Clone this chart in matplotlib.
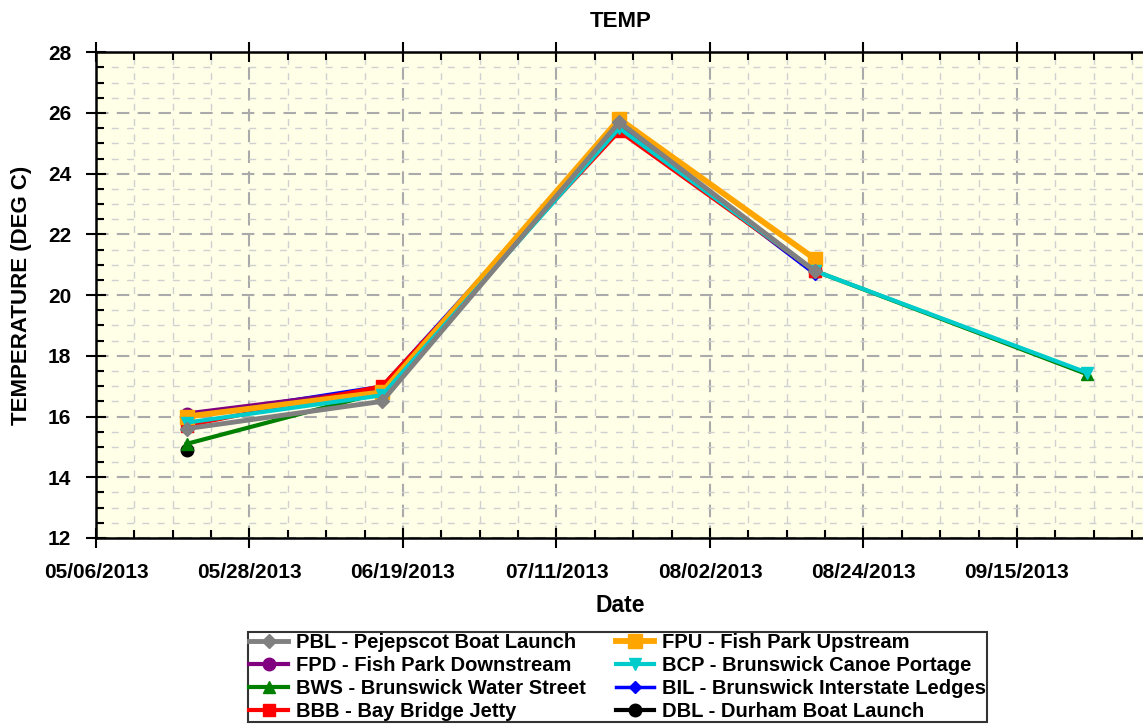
import datetime as dt

import matplotlib
matplotlib.use('Agg')
import matplotlib.dates as mdates
from matplotlib import pyplot as plt
from matplotlib.ticker import MultipleLocator

plt.rcParams['font.family'] = ['Liberation Sans', 'DejaVu Sans']
plt.rcParams['font.weight'] = 'bold'

dates = ['2013-05-19', '2013-06-16', '2013-07-20', '2013-08-17', '2013-09-25']

pbl = [15.6, 16.5, 25.7, 20.8]
fpd = [16.1, 16.9, 25.6, 20.8]
bws = [15.1, 16.8, 25.6, 20.8, 17.4]
bbb = [15.7, 17.0, 25.4, 20.8]
fpu = [16.0, 16.8, 25.8, 21.2]
bcp = [15.8, 16.7, 25.5, 20.8, 17.45]
bil = [16.0, 17.0, 25.6, 20.7]
dbl = [14.9]

labels = ['PBL - Pejepscot Boat Launch', 'FPD - Fish Park Downstream',
          'BWS - Brunswick Water Street', 'BBB - Bay Bridge Jetty',
          'FPU - Fish Park Upstream', 'BCP - Brunswick Canoe Portage',
          'BIL - Brunswick Interstate Ledges', 'DBL - Durham Boat Launch']

x = [dt.datetime.strptime(d, '%Y-%m-%d') for d in dates]

# (values, color, marker, markersize, linewidth, zorder)
series = [
    (pbl, '#808080', 'D', 7, 3.5, 9),
    (fpd, '#800080', 'o', 9, 3.0, 4),
    (bws, '#008000', '^', 9, 3.0, 3),
    (bbb, '#ff0000', 's', 8, 3.0, 5),
    (fpu, '#ffa500', 's', 10, 4.2, 6),
    (bcp, '#00cccc', 'v', 9, 3.0, 7),
    (bil, '#0000ff', 'D', 6, 2.5, 2),
    (dbl, '#000000', 'o', 9, 3.0, 1),
]

fig = plt.figure(figsize=(11.43, 7.26), dpi=100)
ax = fig.add_axes([0.084, 0.259, 0.918, 0.669])
ax.set_facecolor('#ffffe8')

for (vals, color, marker, ms, lw, z), label in zip(series, labels):
    ax.plot(x[:len(vals)], vals, color=color, marker=marker, markersize=ms,
            linewidth=lw, label=label, zorder=z)

start = dt.datetime(2013, 5, 6)
ax.set_xlim(start, start + dt.timedelta(days=150.4))
ax.set_ylim(12, 28)

# major ticks every 22 days from 05/06/2013, minor every 5.5 days
first = mdates.date2num(start)
ax.set_xticks([first + 22 * i for i in range(7)])
ax.set_xticks([first + 5.5 * i for i in range(28)], minor=True)
ax.xaxis.set_major_formatter(mdates.DateFormatter('%m/%d/%Y'))
ax.yaxis.set_major_locator(MultipleLocator(2))
ax.yaxis.set_minor_locator(MultipleLocator(0.5))

ax.tick_params(which='major', direction='inout', length=14, width=1.5,
               labelsize=15, pad=11)
ax.tick_params(which='minor', direction='in', length=6, width=1.5)
ax.tick_params(which='both', top=True)

ax.grid(which='major', color='#aaaaaa', linestyle=(0, (6, 4)), linewidth=1.5)
ax.grid(which='minor', color='#d0d0d0', linestyle=(0, (5, 6)), linewidth=1.0)
ax.set_axisbelow(True)

for side in ['left', 'bottom', 'top']:
    ax.spines[side].set_linewidth(1.8)
ax.spines['right'].set_visible(False)

ax.set_title('TEMP', fontsize=16, fontweight='bold', pad=18)
ax.set_xlabel('Date', fontsize=16.5, fontweight='bold', labelpad=9)
ax.set_ylabel('TEMPERATURE (DEG C)', fontsize=16, fontweight='bold', labelpad=11)

leg = fig.legend(loc='lower center', bbox_to_anchor=(0.5405, 0.005),
                 ncol=2, fontsize=14.5, frameon=True, fancybox=False,
                 edgecolor='black', borderpad=0.05, labelspacing=0.2,
                 handlelength=1.9, handletextpad=0.4, columnspacing=1.5,
                 borderaxespad=0)
leg.get_frame().set_linewidth(1.5)

fig.savefig('out.png', dpi=100)
